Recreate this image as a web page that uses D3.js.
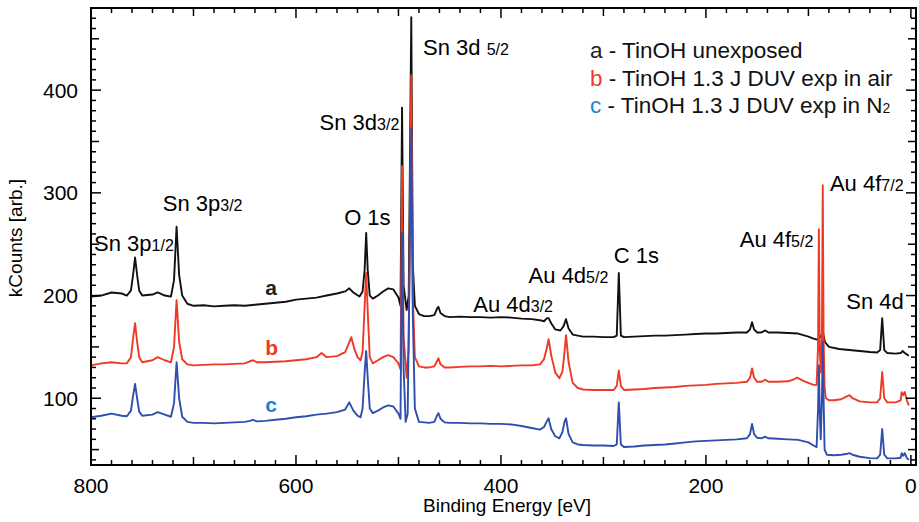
<!DOCTYPE html>
<html>
<head>
<meta charset="utf-8">
<script src="https://cdn.jsdelivr.net/npm/d3@7"></script>
<style>
  body { margin: 0; background: #fff; }
  svg text { font-family: "Liberation Sans", Arial, Helvetica, sans-serif; }
</style>
</head>
<body>
<div id="chart"></div>
<script>
var width = 919, height = 522

// binding energy [eV], kCounts
var seriesA = [
  [800,199],[790,200],[780,203],[770,202],[765,200],[761,205],[759,220],[757,237],[755,220],[753,205],[750,200],
  [740,201],[735,203],[728,200],[722,199],[719,215],[716.5,267],[714,220],[711,200],[706,192],[700,190],
  [690,190.5],[680,189.5],[670,190],[660,190.5],[650,190],[640,191],[630,192],[620,193],[610,194],[600,196],
  [590,197],[580,198],[570,200],[560,202],[552,204],[548,207],[544,203],[538,199],[535,204],[533,225],
  [531.5,261],[530,225],[528,200],[525,197],[520,200],[515,204],[510,207],[505,206],[500,198],[498,190],
  [496.5,383],[495,210],[492,186],[490,200],[487.5,471],[486,230],[484,190],[480,182],[475,180],[470,180],
  [465,181],[462,188],[461,189],[459,183],[455,180],[450,179],[440,179.5],[430,179],[420,179],[410,178.5],
  [400,179],[390,178.5],[380,177.5],[370,177],[362,176],[358,175],[355,178],[353.5,178],[351,173],[347,167],
  [342,166],[339,170],[336.5,177],[334,168],[330,162],[320,160],[310,160],[300,159.5],[290,159.5],[287,161],
  [285,222],[283,161],[280,159.5],[270,160],[260,160.5],[250,161],[240,161],[230,161.5],[220,162],[210,162.5],
  [200,163],[190,163],[180,163.5],[170,164],[160,164],[157,167],[155,174],[153,167],[150,164],[146,164],
  [142,166],[139,164],[130,164],[120,163.5],[110,163],[100,160],[95,158],[91,157],[88,160],[86,165],[84,155],
  [80,150],[70,148],[60,147],[50,146],[40,145],[33,144.5],[30,147],[28,178],[26,147],[23,144],[15,143.5],
  [10,144],[8,146],[6,144],[3,142],[2,141.5]
]

var seriesB = [
  [800,132],[790,134],[780,135],[770,134],[765,134],[761,140],[759,158],[757,173],[755,155],[753,140],[750,135],
  [740,137],[735,140],[728,137],[722,135],[719,150],[716.5,195.5],[714,155],[711,138],[706,133],[700,132],
  [690,132.5],[680,133],[670,133],[660,133.5],[650,134],[645,136],[642,137],[638,135],[630,135],[620,135.5],
  [610,136],[600,137],[590,138],[580,140],[575,144],[570,140],[560,141],[552,145],[549,152],[546,159.5],
  [543,148],[540,140],[537,137],[535,145],[533,190],[531.5,222],[530,185],[528,140],[525,134],[520,137],
  [515,140],[510,142],[505,140],[500,134],[498,128],[496.5,326],[495,160],[492,120],[490,150],[487.5,414.5],
  [486,200],[484,140],[480,131],[475,130],[470,130],[465,131],[462,137],[461,139],[459,133],[455,130],
  [450,130],[440,130.5],[430,131],[420,131],[410,131.5],[400,131],[390,131.5],[380,132],[370,132],[362,133],
  [358,138],[355,150],[353.5,157.5],[351,142],[347,125],[343,119.5],[340,126],[338,145],[336.5,161.5],
  [334,135],[330,115],[325,110],[320,108.5],[310,108],[300,108],[290,108],[287,112],[285,127],[283,112],
  [280,108],[270,108.5],[260,109],[250,110],[240,110.5],[230,111],[220,112],[210,112.5],[200,113],[190,114],
  [180,114.5],[170,115],[160,116],[157,120],[155,129],[153,120],[150,116],[146,116],[142,118],[139,116],
  [130,116],[120,116.5],[115,118],[111,120],[105,117],[100,115],[95,113],[92,113],[90.6,150],[89.8,264.5],
  [89,150],[88,125],[86.8,160],[86,307.5],[85.2,160],[84.2,110],[83,100],[80,98],[75,98],[68,99],[62,102],
  [60,103],[57,100],[50,97],[40,96],[33,96],[30,100],[28,125.5],[26,100],[23,96],[15,96],[10,98],[9,106],
  [7.5,103],[6,106],[4,98],[2,93]
]

var seriesC = [
  [800,81.5],[790,83],[780,85],[770,83],[765,82.5],[761,88],[759,102],[757,114],[755,100],[753,87],[750,83],
  [740,84],[735,86.5],[728,84],[722,82],[719,95],[716.5,135],[714,100],[711,82],[706,77],[700,76],
  [690,76],[680,75.5],[670,76],[660,76.5],[650,77],[645,78],[642,79],[638,77.5],[630,78],[620,79],[610,80],
  [600,81.5],[590,82.5],[580,84],[570,85],[560,86.5],[552,89],[548,96],[544,88],[540,83],[537,81.5],[535,90],
  [533,125],[531.5,146],[530,120],[528,90],[525,85.5],[520,88],[515,91],[510,93],[505,92],[500,85],[498,80],
  [496.5,261],[495,130],[493,77],[491,85],[487.5,363],[486,180],[484,90],[480,77],[475,76.5],[470,76],
  [465,77],[462,84],[461,85.5],[459,80],[455,76.5],[450,76],[440,76],[430,75.5],[420,75.5],[410,75],[400,75],
  [390,74.5],[380,73],[370,71],[362,69.5],[358,72],[355,78],[353.5,80.5],[351,70],[347,63],[343,61],[340,67],
  [338,77],[336.5,80.5],[334,65],[330,57],[325,55],[320,54.5],[310,54],[300,54],[290,53.5],[287,55],[285,96],
  [283,55],[280,52.5],[270,53],[260,54],[250,54.5],[240,55],[230,56],[220,57],[210,58],[200,58.5],[190,59],
  [180,59.5],[170,60],[160,61],[157,65],[155,75],[153,65],[150,61.5],[146,61],[142,62.5],[139,61],[130,60.5],
  [120,60],[110,59.5],[100,57],[95,54],[92,52.5],[90.6,90],[89.8,132],[89,90],[88,60],[86.8,100],[86,155],
  [85.2,100],[84.2,50],[82,45],[75,44.5],[68,45],[62,46],[60,46.5],[57,45],[50,43],[40,41.7],[33,41.5],
  [30,45],[28,70],[26,45],[23,41.5],[15,41.5],[10,42],[9,46.5],[7.5,44],[6,46.5],[4,42],[2,40]
]

var xMajor = [800, 600, 400, 200, 0]
var yMajor = [100, 200, 300, 400]

var legendRows = [
  {key: 'a', text: ' - TinOH unexposed', sub: ''},
  {key: 'b', text: ' - TinOH 1.3 J DUV exp in air', sub: ''},
  {key: 'c', text: ' - TinOH 1.3 J DUV exp in N', sub: '2'}
]

// peak labels: main text, subscript, energy/value anchor
var peakLabels = [
  {t: 'Sn 3p', s: '1/2', E: 797, v: 243},
  {t: 'Sn 3p', s: '3/2', E: 730, v: 282},
  {t: 'O 1s', s: '', E: 553, v: 268.5},
  {t: 'Sn 3d', s: '3/2', E: 577, v: 361},
  {t: 'Sn 3d ', s: '5/2', E: 476, v: 434},
  {t: 'Au 4d', s: '3/2', E: 427, v: 184},
  {t: 'Au 4d', s: '5/2', E: 373, v: 212},
  {t: 'C 1s', s: '', E: 290, v: 232},
  {t: 'Au 4f', s: '5/2', E: 167, v: 247},
  {t: 'Au 4f', s: '7/2', E: 79, v: 302},
  {t: 'Sn 4d', s: '', E: 63, v: 187}
]

var colors = {a: '#111111', b: '#ee3a24', c: '#2e4fae'}
var keyColors = {a: '#222222', b: '#ee3a24', c: '#1e7fd0'}

var svg = d3.select('#chart').append('svg')
  .attr('width', width)
  .attr('height', height)

var x = d3.scaleLinear().domain([800, -4]).range([91, 915])
var y = d3.scaleLinear().domain([35, 480]).range([465, 8])
var frameL = 91, frameR = 916, frameT = 8, frameB = 465

var line = d3.line()
  .x(function(d) { return x(d[0]) })
  .y(function(d) { return y(d[1]) })

var plot = svg.append('g')

plot.append('path').datum(seriesA).attr('d', line)
  .attr('fill', 'none').attr('stroke', colors.a).attr('stroke-width', 1.9).attr('stroke-linejoin', 'round')
plot.append('path').datum(seriesB).attr('d', line)
  .attr('fill', 'none').attr('stroke', colors.b).attr('stroke-width', 1.9).attr('stroke-linejoin', 'round')
plot.append('path').datum(seriesC).attr('d', line)
  .attr('fill', 'none').attr('stroke', colors.c).attr('stroke-width', 1.9).attr('stroke-linejoin', 'round')

// ticks, pointing inward on every side
function tickLen(v, mid, major) {
  if (v % major === 0) return 10
  if (v % mid === 0) return 8
  return 5
}
var xTicks = d3.range(0, 801, 20)
var yTicks = d3.range(40, 480, 10)

var tg = svg.append('g').attr('stroke', '#000').attr('stroke-width', 1.5)
tg.selectAll('.xb').data(xTicks).enter().append('line')
  .attr('x1', function(d) { return x(d) }).attr('x2', function(d) { return x(d) })
  .attr('y1', frameB).attr('y2', function(d) { return frameB - tickLen(d, 100, 200) })
tg.selectAll('.xt').data(xTicks).enter().append('line')
  .attr('x1', function(d) { return x(d) }).attr('x2', function(d) { return x(d) })
  .attr('y1', frameT).attr('y2', function(d) { return frameT + tickLen(d, 100, 200) })
tg.selectAll('.yl').data(yTicks).enter().append('line')
  .attr('y1', function(d) { return y(d) }).attr('y2', function(d) { return y(d) })
  .attr('x1', frameL).attr('x2', function(d) { return frameL + tickLen(d, 50, 100) })
tg.selectAll('.yr').data(yTicks).enter().append('line')
  .attr('y1', function(d) { return y(d) }).attr('y2', function(d) { return y(d) })
  .attr('x1', frameR).attr('x2', function(d) { return frameR - tickLen(d, 50, 100) })

// frame
svg.append('rect')
  .attr('x', frameL).attr('y', frameT)
  .attr('width', frameR - frameL).attr('height', frameB - frameT)
  .attr('fill', 'none').attr('stroke', '#000').attr('stroke-width', 2)

// tick labels
svg.append('g').selectAll('text').data(xMajor).enter().append('text')
  .attr('x', function(d) { return x(d) })
  .attr('y', 493)
  .attr('text-anchor', 'middle')
  .attr('font-size', 21)
  .text(function(d) { return d })

svg.append('g').selectAll('text').data(yMajor).enter().append('text')
  .attr('x', 78)
  .attr('y', function(d) { return y(d) + 7.5 })
  .attr('text-anchor', 'end')
  .attr('font-size', 21)
  .text(function(d) { return d })

svg.append('text')
  .attr('x', 507).attr('y', 512)
  .attr('text-anchor', 'middle')
  .attr('font-size', 19)
  .text('Binding Energy [eV]')

svg.append('text')
  .attr('transform', 'translate(22,238) rotate(-90)')
  .attr('text-anchor', 'middle')
  .attr('font-size', 19)
  .text('kCounts [arb.]')

// peak labels
var pl = svg.append('g').selectAll('text').data(peakLabels).enter().append('text')
  .attr('x', function(d) { return x(d.E) })
  .attr('y', function(d) { return y(d.v) })
  .attr('font-size', 22)
pl.append('tspan').text(function(d) { return d.t })
pl.append('tspan').attr('font-size', 16).text(function(d) { return d.s })

// curve letters
var curveTags = [
  {k: 'a', E: 630, v: 201},
  {k: 'b', E: 630, v: 142},
  {k: 'c', E: 630, v: 87}
]
svg.append('g').selectAll('text').data(curveTags).enter().append('text')
  .attr('x', function(d) { return x(d.E) })
  .attr('y', function(d) { return y(d.v) })
  .attr('font-size', 21)
  .attr('font-weight', 'bold')
  .attr('fill', function(d) { return keyColors[d.k] })
  .text(function(d) { return d.k })

// legend
var lg = svg.append('g').selectAll('text').data(legendRows).enter().append('text')
  .attr('x', 590)
  .attr('y', function(d, i) { return 58 + i * 27.5 })
  .attr('font-size', 22.5)
lg.append('tspan').attr('fill', function(d) { return keyColors[d.key] }).text(function(d) { return d.key })
lg.append('tspan').attr('fill', '#111').text(function(d) { return d.text })
lg.append('tspan').attr('font-size', 14).attr('fill', '#111').text(function(d) { return d.sub })
</script>
</body>
</html>
